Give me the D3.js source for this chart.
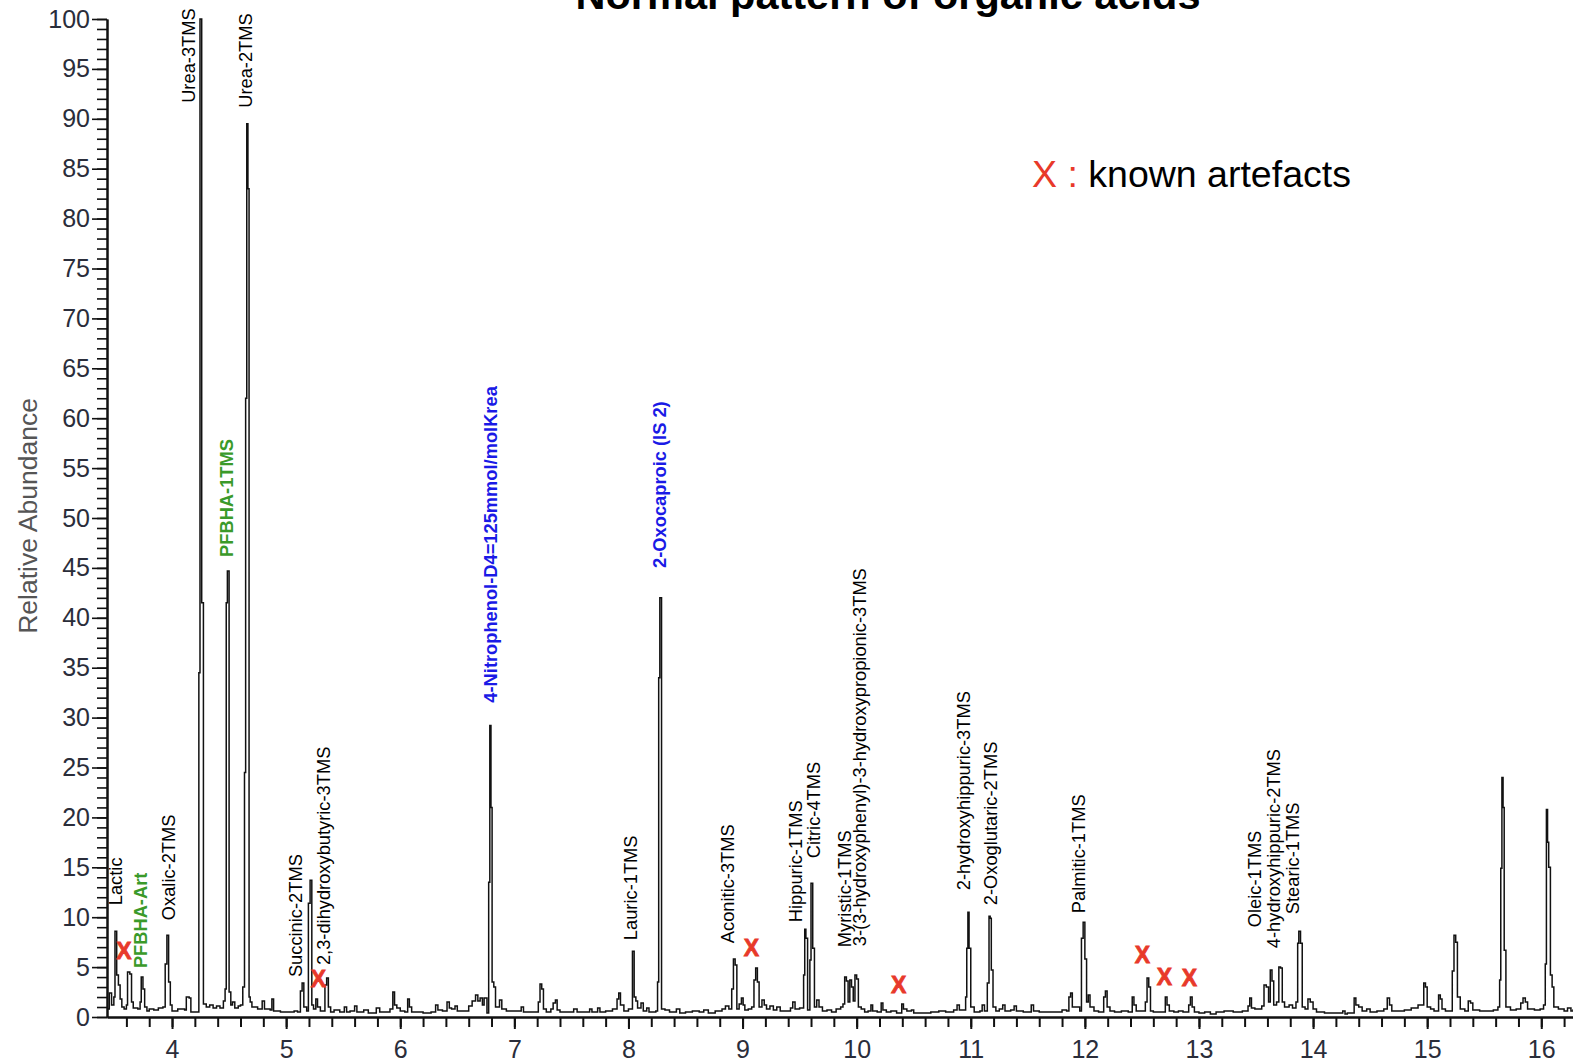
<!DOCTYPE html>
<html>
<head>
<meta charset="utf-8">
<script src="https://cdn.jsdelivr.net/npm/d3@7"></script>
<style>
  html, body { margin: 0; padding: 0; background: #fff; }
  svg { display: block; }
  text { font-family: "Liberation Sans", Arial, Helvetica, sans-serif; }
</style>
</head>
<body>
<svg id="chart" width="1573" height="1064"></svg>
<script>
// Total ion chromatogram: [retention time (min), relative abundance (%)]
const chromatogram = [
  [3.43,0.8],[3.45,2.4],[3.47,1.2],[3.49,2.0],[3.50,8.6],[3.515,4.2],[3.53,3.2],[3.545,1.8],[3.56,1.0],[3.58,0.8],
  [3.60,1.2],[3.61,4.5],[3.63,4.3],[3.645,1.5],[3.66,0.9],[3.70,0.8],[3.72,1.5],[3.73,4.0],[3.745,2.8],[3.76,1.0],
  [3.78,0.6],[3.80,0.8],[3.84,0.7],[3.88,0.9],[3.92,1.0],[3.94,5.3],[3.955,8.2],[3.97,3.5],[3.985,1.2],[4.00,0.6],
  [4.05,0.8],[4.11,0.7],[4.125,2.0],[4.15,1.9],[4.165,0.5],[4.22,0.5],[4.235,34.5],[4.245,100],[4.26,41.5],[4.275,1.3],
  [4.30,1.0],[4.33,1.2],[4.36,0.9],[4.39,1.1],[4.42,0.9],[4.45,1.6],[4.465,2.8],[4.475,41.5],[4.485,44.7],[4.50,2.5],
  [4.515,1.2],[4.53,1.5],[4.55,0.9],[4.58,1.1],[4.60,1.2],[4.62,3.0],[4.635,24.5],[4.645,62],[4.655,89.5],[4.665,83],
  [4.675,2.0],[4.685,1.5],[4.70,1.0],[4.75,0.8],[4.79,1.6],[4.81,0.8],[4.86,0.7],[4.875,1.8],[4.89,0.6],[4.95,0.5],
  [5.00,0.5],[5.07,0.6],[5.10,0.5],[5.125,2.6],[5.14,3.4],[5.155,1.0],[5.18,0.6],[5.195,11.4],[5.21,13.7],[5.225,1.2],
  [5.24,0.8],[5.26,1.8],[5.275,1.0],[5.30,0.6],[5.34,3.2],[5.355,3.9],[5.37,1.0],[5.39,0.5],[5.42,0.7],[5.47,0.5],
  [5.51,1.0],[5.53,0.5],[5.56,0.6],[5.60,1.1],[5.62,0.5],[5.68,0.7],[5.72,0.4],[5.79,0.9],[5.82,0.5],[5.86,0.5],
  [5.91,0.8],[5.935,2.5],[5.95,1.2],[5.97,0.9],[6.00,0.6],[6.04,0.5],[6.065,1.8],[6.08,1.0],[6.10,0.5],[6.20,0.4],
  [6.27,0.5],[6.31,1.2],[6.33,0.7],[6.37,0.6],[6.41,1.5],[6.43,0.9],[6.45,0.8],[6.48,1.1],[6.50,0.6],[6.56,0.6],
  [6.60,1.1],[6.63,1.6],[6.66,2.2],[6.68,1.6],[6.70,1.9],[6.72,1.2],[6.735,1.9],[6.76,0.4],[6.775,13.5],[6.785,29.2],
  [6.795,21],[6.805,3.5],[6.82,3.0],[6.835,1.0],[6.85,1.0],[6.87,1.7],[6.89,0.8],[6.93,0.6],[6.97,0.6],[7.06,1.0],
  [7.08,0.5],[7.15,0.5],[7.21,1.5],[7.225,3.3],[7.24,2.8],[7.255,0.8],[7.28,0.5],[7.32,0.8],[7.34,1.4],[7.36,1.7],
  [7.375,0.7],[7.40,0.5],[7.46,0.5],[7.52,0.8],[7.55,0.5],[7.62,0.5],[7.66,0.8],[7.68,0.5],[7.73,0.9],[7.75,0.5],
  [7.80,0.6],[7.86,0.8],[7.90,1.8],[7.915,2.4],[7.93,1.2],[7.96,0.6],[8.00,0.8],[8.035,6.6],[8.05,2.0],[8.065,1.6],
  [8.08,0.9],[8.11,1.4],[8.13,0.6],[8.16,0.9],[8.18,0.5],[8.24,0.6],[8.255,3.5],[8.265,34],[8.275,42],[8.29,0.8],
  [8.32,0.7],[8.36,0.5],[8.42,0.8],[8.45,0.4],[8.50,0.5],[8.56,0.6],[8.62,0.5],[8.66,0.7],[8.70,0.4],[8.76,0.6],
  [8.82,0.8],[8.85,1.1],[8.88,0.8],[8.905,2.8],[8.92,5.8],[8.935,5.2],[8.95,0.8],[8.97,1.3],[8.99,1.9],[9.005,1.2],
  [9.02,0.7],[9.05,0.8],[9.08,1.0],[9.10,3.7],[9.115,4.9],[9.13,3.5],[9.145,1.0],[9.17,1.7],[9.19,1.2],[9.21,0.8],
  [9.24,1.1],[9.27,0.7],[9.30,1.0],[9.33,0.6],[9.38,0.6],[9.42,0.9],[9.44,1.5],[9.46,0.8],[9.50,0.9],[9.535,4.2],
  [9.545,8.8],[9.555,7.9],[9.57,0.7],[9.59,5.7],[9.60,13.4],[9.615,6.9],[9.63,1.0],[9.65,1.7],[9.67,1.0],[9.70,0.6],
  [9.74,0.7],[9.78,0.5],[9.82,0.8],[9.86,1.0],[9.88,1.3],[9.895,4.0],[9.91,3.6],[9.925,1.5],[9.94,3.7],[9.955,3.0],
  [9.97,1.6],[9.985,4.2],[10.00,3.8],[10.015,1.0],[10.04,0.8],[10.07,0.5],[10.10,0.6],[10.125,1.2],[10.14,0.6],[10.18,0.5],
  [10.215,1.4],[10.23,0.7],[10.26,0.5],[10.30,0.6],[10.35,0.4],[10.395,1.3],[10.41,0.8],[10.44,0.6],[10.48,0.7],[10.50,0.4],
  [10.60,0.4],[10.65,0.5],[10.72,0.6],[10.78,0.5],[10.85,0.7],[10.88,1.2],[10.90,0.7],[10.955,2.0],[10.965,6.9],[10.975,10.5],
  [10.985,6.9],[11.00,1.0],[11.03,0.5],[11.08,0.6],[11.10,1.2],[11.12,0.6],[11.145,3.4],[11.16,10.1],[11.17,9.9],[11.18,4.7],
  [11.195,1.0],[11.22,0.6],[11.25,0.8],[11.28,1.2],[11.30,0.6],[11.35,0.7],[11.38,1.1],[11.40,0.6],[11.46,0.5],[11.53,1.2],
  [11.55,0.6],[11.60,0.5],[11.68,0.5],[11.75,0.5],[11.80,0.7],[11.84,0.6],[11.86,2.0],[11.875,2.4],[11.89,1.0],[11.955,0.6],
  [11.97,7.9],[11.985,9.5],[12.00,5.8],[12.015,1.5],[12.03,2.2],[12.045,1.0],[12.08,0.6],[12.12,0.5],[12.165,2.0],[12.18,2.6],
  [12.195,1.0],[12.22,0.6],[12.26,0.5],[12.32,0.6],[12.38,0.5],[12.415,2.0],[12.43,1.2],[12.45,0.6],[12.53,1.5],[12.545,3.9],
  [12.56,3.0],[12.575,0.6],[12.60,0.5],[12.65,0.5],[12.705,2.0],[12.72,1.2],[12.74,0.6],[12.78,0.5],[12.82,0.6],[12.86,0.5],
  [12.91,1.2],[12.925,2.0],[12.94,1.0],[12.96,0.5],[13.00,0.4],[13.05,0.5],[13.10,0.3],[13.15,0.5],[13.22,0.6],[13.30,0.5],
  [13.38,0.6],[13.43,1.1],[13.445,1.9],[13.46,0.9],[13.49,0.8],[13.55,1.1],[13.57,3.2],[13.59,3.0],[13.61,1.5],[13.625,4.7],
  [13.64,3.6],[13.655,1.2],[13.68,1.5],[13.70,5.0],[13.715,4.9],[13.73,1.5],[13.75,1.0],[13.79,1.2],[13.82,0.9],[13.85,1.5],
  [13.865,7.4],[13.875,8.6],[13.89,7.4],[13.905,1.0],[13.93,0.8],[13.955,1.8],[13.975,1.5],[14.00,0.8],[14.03,0.5],[14.10,0.4],
  [14.20,0.4],[14.26,0.6],[14.28,0.3],[14.30,0.4],[14.36,1.9],[14.375,1.2],[14.40,1.0],[14.43,0.6],[14.47,0.8],[14.50,0.5],
  [14.56,0.6],[14.62,0.8],[14.65,1.9],[14.67,1.2],[14.69,0.6],[14.74,0.6],[14.80,0.7],[14.86,0.9],[14.92,1.2],[14.97,3.4],
  [14.985,3.0],[15.00,1.0],[15.03,0.8],[15.06,0.6],[15.10,2.2],[15.115,1.8],[15.13,0.8],[15.16,0.6],[15.22,4.6],[15.235,8.2],
  [15.25,7.5],[15.265,2.0],[15.29,0.8],[15.33,0.6],[15.36,1.6],[15.38,1.4],[15.40,0.7],[15.46,0.6],[15.50,0.6],[15.58,0.7],
  [15.62,1.0],[15.635,3.7],[15.645,14.9],[15.655,24.0],[15.665,21.0],[15.675,6.7],[15.69,1.0],[15.73,0.7],[15.78,0.8],[15.82,1.4],
  [15.84,1.9],[15.86,1.5],[15.88,0.8],[15.94,0.7],[15.99,0.8],[16.02,1.2],[16.035,5.3],[16.045,20.8],[16.055,17.5],[16.065,15.0],
  [16.08,4.2],[16.095,3.0],[16.11,1.0],[16.15,0.8],[16.20,0.6],[16.23,0.9],[16.26,0.6],[16.28,0.8]
];

// Peak annotations
const peakNames = [
  "Lactic", "PFBHA-Art", "Oxalic-2TMS", "Urea-3TMS", "PFBHA-1TMS", "Urea-2TMS",
  "Succinic-2TMS", "2,3-dihydroxybutyric-3TMS", "4-Nitrophenol-D4=125mmol/molKrea",
  "Lauric-1TMS", "2-Oxocaproic (IS 2)", "Aconitic-3TMS", "Hippuric-1TMS", "Citric-4TMS",
  "Myristic-1TMS", "3-(3-hydroxyphenyl)-3-hydroxypropionic-3TMS", "2-hydroxyhippuric-3TMS",
  "2-Oxoglutaric-2TMS", "Palmitic-1TMS", "Oleic-1TMS", "4-hydroxyhippuric-2TMS", "Stearic-1TMS"
];
const peakLabelRt = [
  3.562, 3.780, 4.026, 4.202, 4.536, 4.703,
  5.141, 5.385, 6.846,
  8.076, 8.331, 8.928, 9.517, 9.675,
  9.947, 10.079, 10.993,
  11.230, 12.003, 13.541, 13.708, 13.874
];
const peakLabelLevel = [
  11.2, 4.9, 9.7, 91.6, 46.1, 91.1,
  4.0, 5.2, 31.5,
  7.7, 45.0, 7.4, 9.5, 15.9,
  7.0, 7.1, 12.7,
  11.2, 10.4, 9.0, 6.9, 10.3
];
// "analyte" = measured compound, "standard" = internal standard, "reagent" = derivatisation reagent
const peakKind = [
  "analyte", "reagent", "analyte", "analyte", "reagent", "analyte",
  "analyte", "analyte", "standard",
  "analyte", "standard", "analyte", "analyte", "analyte",
  "analyte", "analyte", "analyte",
  "analyte", "analyte", "analyte", "analyte", "analyte"
];

// Known artefact peaks, flagged with a red X
const artefactRt = [3.578, 5.283, 9.078, 10.369, 12.504, 12.697, 12.917];
const artefactLevel = [6.6, 3.8, 6.9, 3.2, 6.2, 4.0, 3.9];

// Axis ticks
const xMajorTicks = [4, 5, 6, 7, 8, 9, 10, 11, 12, 13, 14, 15, 16];
const xMinorTicks = d3.range(36, 164, 2).map(v => v / 10);
const yMajorTicks = d3.range(0, 101, 5);
const yMinorTicks = d3.range(0, 101, 1);

const svg = d3.select("#chart");
const W = 1573, H = 1064;
const plot = { left: 107, right: 1573, top: 19, bottom: 1017 };

const x = d3.scaleLinear().domain([3.43, 16.278]).range([plot.left, plot.right]);
const y = d3.scaleLinear().domain([0, 100]).range([plot.bottom, plot.top]);

svg.append("rect").attr("width", W).attr("height", H).attr("fill", "#fff");

// Title (runs off the top edge)
svg.append("text")
  .attr("x", 888).attr("y", 9)
  .attr("text-anchor", "middle")
  .attr("font-size", 41.5).attr("font-weight", "bold")
  .attr("fill", "#000")
  .text("Normal pattern of organic acids");

// Chromatogram trace
const line = d3.line()
  .x(d => x(d[0]))
  .y(d => y(d[1]))
  .curve(d3.curveStepAfter);

svg.append("path")
  .datum(chromatogram)
  .attr("d", line)
  .attr("fill", "none")
  .attr("stroke", "#111")
  .attr("stroke-width", 1.5)
  .attr("stroke-linejoin", "miter");

// X axis
const tickColor = "#2a2d3a";
const xMinorAxis = d3.axisBottom(x).tickValues(xMinorTicks).tickSize(10).tickSizeOuter(0).tickFormat("");
const xMajorAxis = d3.axisBottom(x).tickValues(xMajorTicks).tickSize(12).tickSizeOuter(0).tickPadding(11).tickFormat(d3.format("d"));

const gxMinor = svg.append("g").attr("transform", `translate(0,${plot.bottom})`).call(xMinorAxis);
const gxMajor = svg.append("g").attr("transform", `translate(0,${plot.bottom})`).call(xMajorAxis);
[gxMinor, gxMajor].forEach(g => {
  g.select(".domain").attr("stroke", "#111").attr("stroke-width", 2);
  g.selectAll(".tick line").attr("stroke", "#111").attr("stroke-width", 2);
});
gxMajor.selectAll(".tick text")
  .attr("font-size", 25)
  .attr("fill", tickColor)
  .attr("font-family", "'Liberation Sans', Arial, sans-serif");

// Y axis
const yMinorAxis = d3.axisLeft(y).tickValues(yMinorTicks).tickSize(10).tickSizeOuter(0).tickFormat("");
const yMajorAxis = d3.axisLeft(y).tickValues(yMajorTicks).tickSize(15).tickSizeOuter(0).tickPadding(2).tickFormat(d3.format("d"));

const gyMinor = svg.append("g").attr("transform", `translate(${plot.left},0)`).call(yMinorAxis);
const gyMajor = svg.append("g").attr("transform", `translate(${plot.left},0)`).call(yMajorAxis);
[gyMinor, gyMajor].forEach(g => {
  g.select(".domain").attr("stroke", "#111").attr("stroke-width", 2);
  g.selectAll(".tick line").attr("stroke", "#111").attr("stroke-width", 1.6);
});
gyMajor.selectAll(".tick text")
  .attr("font-size", 25)
  .attr("fill", tickColor)
  .attr("font-family", "'Liberation Sans', Arial, sans-serif");

// Y axis title
svg.append("text")
  .attr("transform", `translate(37,516) rotate(-90)`)
  .attr("text-anchor", "middle")
  .attr("font-size", 26.5)
  .attr("fill", "#555")
  .text("Relative Abundance");

// Peak labels, written vertically upward from their start level
const kindColor = { analyte: "#000", standard: "#1a1ae6", reagent: "#3a9a2a" };
svg.append("g")
  .selectAll("text")
  .data(peakNames.map((name, i) => ({ name, rt: peakLabelRt[i], level: peakLabelLevel[i], kind: peakKind[i] })))
  .join("text")
  .attr("transform", d => `translate(${x(d.rt)},${y(d.level)}) rotate(-90)`)
  .attr("text-anchor", "start")
  .attr("font-size", 18.3)
  .attr("font-weight", d => d.kind === "analyte" ? "normal" : "bold")
  .attr("fill", d => kindColor[d.kind])
  .text(d => d.name);

// Artefact markers
const artefactRed = "#e8392a";
svg.append("g")
  .selectAll("text")
  .data(artefactRt.map((rt, i) => ({ rt, level: artefactLevel[i] })))
  .join("text")
  .attr("x", d => x(d.rt))
  .attr("y", d => y(d.level))
  .attr("dy", "0.36em")
  .attr("text-anchor", "middle")
  .attr("font-size", 23)
  .attr("font-weight", "bold")
  .attr("fill", artefactRed)
  .attr("stroke", artefactRed)
  .attr("stroke-width", 0.8)
  .text("X");

// Legend
const legend = svg.append("text")
  .attr("x", 1032).attr("y", 187)
  .attr("font-size", 37.5);
legend.append("tspan").attr("fill", artefactRed).text("X :");
legend.append("tspan").attr("fill", "#000").text(" known artefacts");
</script>
</body>
</html>
